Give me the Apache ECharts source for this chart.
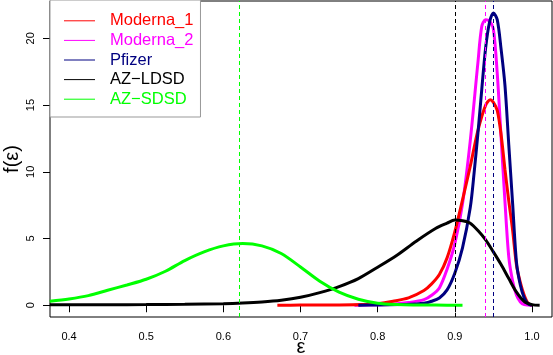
<!DOCTYPE html>
<html><head><meta charset="utf-8">
<script src="https://cdn.jsdelivr.net/npm/echarts@6/dist/echarts.min.js"></script>
<style>html,body{margin:0;padding:0;background:#fff}#c{width:553px;height:355px}</style>
</head><body><div id="c"></div>
<script>
// ---- data ----
const seriesNames = ['Moderna_1', 'Moderna_2', 'Pfizer', 'AZ\u2212LDSD', 'AZ\u2212SDSD'];
const seriesColors = ['#ff0000', '#ff00ff', '#000080', '#000000', '#00ff00'];
const xTicks = [0.4, 0.5, 0.6, 0.7, 0.8, 0.9, 1.0];
const yTicks = [0, 5, 10, 15, 20];
const meanValues = [0.947, 0.9437, 0.9523, 0.901, 0.621];

const moderna1X = [0.67, 0.70, 0.75, 0.78, 0.80, 0.82, 0.84, 0.86, 0.87, 0.88, 0.89, 0.90, 0.91, 0.92, 0.93, 0.94, 0.946, 0.95, 0.955, 0.96, 0.965, 0.97, 0.975, 0.98, 0.985, 0.99, 0.995, 1.0];
const moderna1Y = [0, 0.01, 0.02, 0.05, 0.12, 0.3, 0.55, 1.1, 1.6, 2.3, 3.55, 5.5, 7.9, 10.4, 13.1, 15.0, 15.4, 15.2, 14.6, 12.8, 10.2, 7.8, 5.6, 3.0, 1.7, 0.75, 0.15, 0];

const moderna2X = [0.77, 0.80, 0.82, 0.84, 0.86, 0.87, 0.88, 0.89, 0.90, 0.91, 0.92, 0.93, 0.935, 0.94, 0.945, 0.95, 0.955, 0.96, 0.965, 0.97, 0.975, 0.98, 0.985, 0.99, 1.0];
const moderna2Y = [0, 0.03, 0.08, 0.2, 0.42, 0.75, 1.3, 2.7, 4.6, 7.6, 12.3, 18.2, 20.9, 21.4, 21.3, 20.7, 17.4, 12.6, 7.8, 3.6, 1.8, 0.75, 0.25, 0.05, 0];

const pfizerX = [0.775, 0.80, 0.83, 0.85, 0.86, 0.87, 0.88, 0.89, 0.90, 0.91, 0.92, 0.925, 0.93, 0.935, 0.94, 0.945, 0.95, 0.955, 0.96, 0.965, 0.97, 0.975, 0.98, 0.985, 0.99, 0.995, 1.0];
const pfizerY = [0, 0.02, 0.06, 0.1, 0.15, 0.3, 0.55, 1.15, 2.4, 4.3, 7.3, 9.9, 12.9, 16.2, 19.3, 21.2, 21.9, 21.4, 19.2, 16.5, 12.0, 7.6, 3.2, 1.5, 0.55, 0.1, 0];

const azLdsdX = [0.375, 0.45, 0.50, 0.55, 0.60, 0.625, 0.65, 0.675, 0.70, 0.725, 0.75, 0.775, 0.80, 0.825, 0.85, 0.875, 0.89, 0.90, 0.91, 0.92, 0.93, 0.94, 0.95, 0.96, 0.97, 0.98, 0.99, 1.0, 1.01];
const azLdsdY = [0.03, 0.04, 0.05, 0.07, 0.12, 0.17, 0.25, 0.38, 0.6, 0.95, 1.4, 2.0, 2.85, 3.75, 4.8, 5.75, 6.15, 6.38, 6.33, 6.15, 5.6, 4.9, 4.0, 3.05, 2.0, 0.98, 0.28, 0.05, 0];

const azSdsdX = [0.375, 0.40, 0.425, 0.45, 0.475, 0.50, 0.525, 0.55, 0.575, 0.60, 0.625, 0.65, 0.675, 0.70, 0.725, 0.75, 0.775, 0.80, 0.825, 0.85, 0.875, 0.91];
const azSdsdY = [0.3, 0.47, 0.72, 1.12, 1.52, 1.95, 2.55, 3.35, 4.0, 4.45, 4.63, 4.45, 3.88, 2.87, 1.8, 0.98, 0.45, 0.15, 0.05, 0.02, 0.01, 0];

// ---- chart ----
const curvesX = [moderna1X, moderna2X, pfizerX, azLdsdX, azSdsdX];
const curvesY = [moderna1Y, moderna2Y, pfizerY, azLdsdY, azSdsdY];
const FONT = 'Liberation Sans, Arial, Helvetica, sans-serif';
const drawOrder = [1, 0, 2, 3, 4];

const series = drawOrder.map(i => ({
  type: 'line',
  name: seriesNames[i],
  data: curvesX[i].map((x, k) => [x, curvesY[i][k]]),
  symbol: 'none',
  showSymbol: false,
  smooth: 0.3,
  clip: true,
  silent: true,
  color: seriesColors[i],
  lineStyle: { color: seriesColors[i], width: 3 },
  itemStyle: { color: seriesColors[i] },
  markLine: {
    silent: true,
    z: 10,
    symbol: ['none', 'none'],
    label: { show: false },
    animation: false,
    lineStyle: { color: seriesColors[i], type: [4, 3], width: 1, opacity: 1 },
    emphasis: { disabled: true },
    data: [{ xAxis: meanValues[i], lineStyle: { color: seriesColors[i], type: [4, 3], width: 1, opacity: 1 } }]
  }
}));

const chart = echarts.init(document.getElementById('c'));
chart.setOption({
  animation: false,
  backgroundColor: '#fff',
  grid: { left: 50, right: 1, top: 1, bottom: 38, outerBoundsMode: 'none', containLabel: false, show: true, borderColor: '#000', borderWidth: 1, backgroundColor: 'transparent' },
  xAxis: {
    type: 'value', min: 0.3753, max: 1.026,
    name: '\u03b5', nameLocation: 'middle', nameGap: 20, nameMoveOverlap: false,
    nameTextStyle: { fontSize: 20, fontFamily: FONT, color: '#000' },
    axisLine: { show: false },
    splitLine: { show: false },
    axisTick: { show: true, inside: false, length: 7, customValues: xTicks, lineStyle: { color: '#000', width: 1 } },
    axisLabel: { customValues: xTicks, margin: 14, fontSize: 11, fontFamily: FONT, color: '#000', formatter: v => v.toFixed(1) }
  },
  yAxis: {
    type: 'value', min: -0.88, max: 22.8,
    name: 'f(\u03b5)', nameLocation: 'middle', nameGap: 28, nameRotate: 90, nameMoveOverlap: false,
    nameTextStyle: { fontSize: 20, fontFamily: FONT, color: '#000' },
    axisLine: { show: false },
    splitLine: { show: false },
    axisTick: { show: true, inside: false, length: 7, customValues: yTicks, lineStyle: { color: '#000', width: 1 } },
    axisLabel: { customValues: yTicks, rotate: 90, margin: 14, fontSize: 11, fontFamily: FONT, color: '#000' }
  },
  legend: {
    left: 50, top: 0, orient: 'vertical', z: 20,
    data: seriesNames.map((n, i) => ({ name: n, textStyle: { color: seriesColors[i] } })),
    icon: 'rect', itemWidth: 31, itemHeight: 1, itemGap: 0,
    textStyle: { fontSize: 16.5, fontFamily: FONT, lineHeight: 19.6, padding: [0, 0, 0, 10] },
    borderColor: '#999', borderWidth: 1, padding: [11, 7, 8, 14], backgroundColor: '#fff',
    selectedMode: false
  },
  series: series
});
</script></body></html>
